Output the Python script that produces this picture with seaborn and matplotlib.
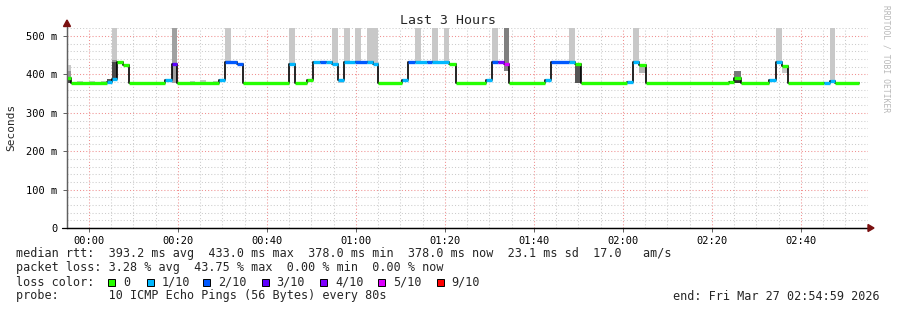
import numpy as np
import pandas as pd
import matplotlib
matplotlib.use("Agg")
import matplotlib.pyplot as plt
import seaborn as sns
from matplotlib.patches import Rectangle, Polygon

# ---------------- data (minutes after 00:00, ms) ----------------
seg_start = [-5.0, -4.04, 3.98, 5.10, 6.36, 7.71, 9.06, 17.15, 18.58, 19.84,
             29.28, 30.56, 33.19, 34.54, 45.01, 46.36, 49.06, 50.40, 51.91, 53.26,
             54.61, 55.89, 57.24, 59.78, 62.40, 63.75, 65.01, 70.27, 71.75, 73.26,
             75.89, 77.08, 80.97, 82.40, 89.15, 90.49, 91.98, 93.19, 94.49, 102.47,
             103.82, 107.93, 109.21, 110.49, 120.97, 122.31, 123.66, 125.10, 143.82, 144.94,
             146.45, 152.81, 154.31, 155.66, 157.01, 165.24, 166.52, 167.64]
seg_value = [390, 378, 380, 388, 432, 424, 378, 385, 428, 378,
             385, 433, 427, 378, 426, 378, 386, 433, 433, 433,
             427, 385, 433, 433, 433, 427, 378, 385, 433, 433,
             433, 433, 427, 378, 385, 433, 433, 428, 378, 386,
             433, 433, 428, 378, 380, 433, 425, 378, 381, 392,
             378, 385, 433, 423, 378, 379, 384, 378]
seg_loss = [0, 0, 1, 1, 0, 0, 0, 1, 3, 0,
            1, 2, 2, 0, 1, 0, 0, 1, 2, 1,
            1, 1, 1, 2, 1, 1, 0, 1, 2, 1,
            2, 1, 0, 0, 1, 2, 4, 5, 0, 1,
            2, 1, 0, 0, 1, 1, 0, 0, 0, 0,
            0, 1, 1, 0, 0, 1, 1, 0]
end_time = 173.03

smoke_t0 = [-5.0, -5.0, -5.0, -2.7, 0.0, 2.7, 3.98, 5.10, 5.10, 5.10,
            18.58, 22.7, 24.9, 27.8, 30.56, 45.01, 54.61, 55.89, 57.24, 59.78,
            62.40, 73.26, 77.08, 79.7, 90.49, 93.19, 107.93, 109.21, 122.31, 123.66,
            143.82, 144.94, 144.94, 154.31, 155.66, 166.52]
smoke_t1 = [-4.04, -4.04, -4.04, -1.35, 1.35, 3.98, 5.10, 6.36, 6.36, 6.36,
            19.84, 23.8, 26.4, 29.0, 31.9, 46.36, 55.89, 57.24, 58.6, 61.1,
            65.01, 74.6, 78.4, 80.97, 91.98, 94.49, 109.21, 110.49, 123.66, 125.10,
            144.94, 146.45, 146.45, 155.66, 157.01, 167.64]
smoke_lo = [378, 378, 378, 378, 378, 378, 378, 388, 388, 432,
            378, 378, 378, 378, 433, 426, 427, 378, 433, 433,
            427, 433, 433, 433, 433, 410, 433, 378, 433, 405,
            378, 378, 392, 433, 405, 384]
smoke_hi = [425, 408, 386, 383, 383, 383, 388, 530, 432, 437,
            530, 383, 385, 383, 530, 530, 530, 383, 530, 530,
            530, 530, 530, 530, 530, 530, 530, 428, 530, 425,
            383, 392, 410, 530, 423, 530]
smoke_shade = ["#c8c8c8", "#999999", "#444444", "#c8c8c8", "#c8c8c8", "#c8c8c8", "#555555", "#c8c8c8", "#4a4a4a", "#999999",
               "#a0a0a0", "#c8c8c8", "#c8c8c8", "#c8c8c8", "#c8c8c8", "#c8c8c8", "#c8c8c8", "#c8c8c8", "#c8c8c8", "#c8c8c8",
               "#c8c8c8", "#c8c8c8", "#c8c8c8", "#c8c8c8", "#c8c8c8", "#808080", "#c8c8c8", "#555555", "#c8c8c8", "#b4b4b4",
               "#c8c8c8", "#333333", "#777777", "#c8c8c8", "#c8c8c8", "#c8c8c8"]

loss_labels = ["0", "1/10", "2/10", "3/10", "4/10", "5/10", "9/10"]
loss_colors = ["#26ff00", "#00b8ff", "#0059ff", "#5e00ff", "#7e00ff", "#dd00ff", "#ff0000"]

xtick_minutes = [0, 20, 40, 60, 80, 100, 120, 140, 160]
xtick_labels = ["00:00", "00:20", "00:40", "01:00", "01:20", "01:40", "02:00", "02:20", "02:40"]
ytick_values = [0, 100, 200, 300, 400, 500]
ytick_labels = ["0", "100 m", "200 m", "300 m", "400 m", "500 m"]

stats_line1 = "median rtt:  393.2 ms avg  433.0 ms max  378.0 ms min  378.0 ms now  23.1 ms sd  17.0   am/s"
stats_line2 = "packet loss: 3.28 % avg  43.75 % max  0.00 % min  0.00 % now"
probe_line = "probe:       10 ICMP Echo Pings (56 Bytes) every 80s"
end_line = "end: Fri Mar 27 02:54:59 2026"

# ---------------- figure ----------------
sns.set_style("white")
plt.rcParams["font.family"] = ["DejaVu Sans Mono", "DejaVu Sans"]
W, H = 897, 310
fig = plt.figure(figsize=(W / 100, H / 100), dpi=100)
fig.patch.set_facecolor("white")

def fx(px):
    return px / W

def fy(py):
    return 1 - py / H

ax = fig.add_axes([fx(67), fy(228), (868 - 67) / W, (228 - 28) / H])
ax.set_facecolor("white")
ax.set_xlim(-4.94, 175.06)
ax.set_ylim(0, 521)

# grid
grid_minor = "#cccccc"
grid_major = "#f09090"
for t in range(-5, 176, 5):
    if t <= -4.94:
        continue
    major = (t % 20 == 0)
    ax.axvline(t, color=grid_major if major else grid_minor, lw=0.75,
               ls=(0, (1, 2)), zorder=2)
for v in range(20, 521, 20):
    major = (v % 100 == 0)
    ax.axhline(v, color=grid_major if major else grid_minor, lw=0.75,
               ls=(0, (1, 2)), zorder=2)

# smoke
sm = pd.DataFrame({"t0": smoke_t0, "t1": smoke_t1, "lo": smoke_lo,
                   "hi": smoke_hi, "shade": smoke_shade})
ax.bar(sm["t0"], sm["hi"] - sm["lo"], bottom=sm["lo"], width=sm["t1"] - sm["t0"],
       align="edge", color=sm["shade"], linewidth=0, zorder=3)

# median step line
seg_end = seg_start[1:] + [end_time]
line_df = pd.DataFrame({"t": seg_start + [end_time],
                        "rtt": seg_value + [seg_value[-1]]})
sns.lineplot(data=line_df, x="t", y="rtt", drawstyle="steps-post", color="black",
             lw=1.2, estimator=None, sort=False, ax=ax, zorder=4)
ax.hlines(seg_value, seg_start, seg_end,
          colors=[loss_colors[i] for i in seg_loss], lw=2.4, zorder=5,
          capstyle="butt")

# axes styling
for s in ["top", "right"]:
    ax.spines[s].set_visible(False)
ax.spines["left"].set_color("#606060")
ax.spines["left"].set_linewidth(0.9)
ax.spines["bottom"].set_color("black")
ax.spines["bottom"].set_linewidth(0.9)
ax.set_xticks(xtick_minutes)
ax.set_xticklabels(xtick_labels)
ax.set_yticks(ytick_values)
ax.set_yticklabels(ytick_labels)
ax.tick_params(axis="x", length=3, width=0.7, color="#606060", pad=3,
               labelsize=7.5, labelcolor="black", bottom=True)
ax.tick_params(axis="y", length=3, width=0.7, color="#606060", pad=4,
               labelsize=7.5, labelcolor="black", left=True)
ax.set_xlabel("")
ax.set_ylabel("")

# arrows
fig.patches.append(Polygon([[fx(63.5), fy(26.5)], [fx(70.5), fy(26.5)], [fx(67), fy(20)]],
                           closed=True, transform=fig.transFigure, color="#7a1010", zorder=10))
fig.patches.append(Polygon([[fx(868), fy(224.5)], [fx(868), fy(231.5)], [fx(874), fy(228)]],
                           closed=True, transform=fig.transFigure, color="#7a1010", zorder=10))
fig.add_artist(plt.Line2D([fx(67), fx(67)], [fy(228), fy(25)], color="#606060", lw=0.9))
fig.add_artist(plt.Line2D([fx(62), fx(869)], [fy(228), fy(228)], color="black", lw=0.9))

# texts
fig.text(fx(448), fy(20), "Last 3 Hours", ha="center", va="center", fontsize=9.5)
fig.text(fx(11), fy(127), "Seconds", ha="center", va="center", rotation=90, fontsize=8)
fig.text(fx(886), fy(59), "RRDTOOL / TOBI OETIKER", ha="center", va="center",
         rotation=270, fontsize=5.8, color="#b8b8b8")

fs = 8.5
fig.text(fx(16), fy(254), stats_line1, ha="left", va="center", fontsize=fs)
fig.text(fx(16), fy(268), stats_line2, ha="left", va="center", fontsize=fs)
fig.text(fx(16), fy(282), "loss color:", ha="left", va="center", fontsize=fs)
sq_x = [108, 146.5, 203, 261.5, 320, 378, 436.5]
for xpx, lab, col in zip(sq_x, loss_labels, loss_colors):
    fig.patches.append(Rectangle((fx(xpx), fy(285.5)), 7 / W, 7 / H,
                                 transform=fig.transFigure, facecolor=col,
                                 edgecolor="black", lw=0.7))
    fig.text(fx(xpx + 15), fy(282), lab, ha="left", va="center", fontsize=fs)
fig.text(fx(16), fy(296), probe_line, ha="left", va="center", fontsize=fs)
fig.text(fx(880), fy(296), end_line, ha="right", va="center", fontsize=fs)

fig.savefig("out.png", dpi=100, facecolor="white")
